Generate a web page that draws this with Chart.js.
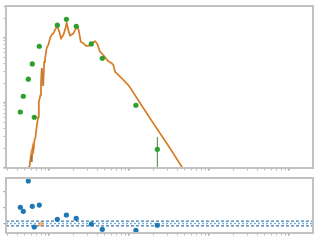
<!DOCTYPE html>
<html><head><meta charset="utf-8">
<script src="https://cdn.jsdelivr.net/npm/chart.js@4"></script>
<style>
html,body{margin:0;padding:0;background:#fff;width:320px;height:240px;overflow:hidden}
#c1{position:absolute;left:0;top:0}
#c2{position:absolute;left:0;top:174px}
</style></head><body>
<canvas id="c1" width="320" height="174"></canvas>
<canvas id="c2" width="320" height="66"></canvas>
<script>
// ---- data ----
const obsWave = [0.438,0.477,0.551,0.618,0.655,0.756,1.27,1.65,2.19,3.38,4.64,12.2,22.6];
const obsFlux = [7.27,12.7,23.2,39.8,6.03,74.5,157,194,151,80.9,48.7,9.22,1.94];
const errWave = [22.6];
const errLow  = [0.5];
const errHigh = [3.0];
const resid   = [1.03,0.77,2.69,1.09,-0.22,1.17,0.27,0.54,0.33,-0.03,-0.37,-0.43,-0.11];
const limWave = [0.794];
const limResid = [-0.03];
const modelWave = [0.551,0.571,0.584,0.596,0.608,0.625,0.640,0.659,0.678,0.698,0.722,0.735,0.746,0.767,0.783,0.794,0.811,0.830,0.846,0.871,0.891,0.936,0.980,1.029,1.081,1.132,1.189,1.270,1.345,1.413,1.509,1.585,1.664,1.743,1.830,2.013,2.175,2.258,2.371,2.490,2.684,2.901,3.098,3.419,3.758,4.016,4.340,4.772,5.508,6.081,6.366,6.683,7.345,8.485,9.795,10.81,13.72,20.14,32.55,45.6,51.6];
const modelFlux = [0.965,1.07,1.33,1.585,1.24,2.10,1.89,2.70,3.00,4.12,5.48,6.09,10.4,11.9,13.3,20.3,34.5,26.0,18.3,42.7,47.5,70.2,78.0,98.3,113,117,133,153,124,98.3,111,133,170,133,109,117,140,153,125,87.7,82.9,75.3,75.3,82.9,88.9,80.9,61.5,54.7,43.8,40.8,38.4,30.3,27.0,22.6,18.9,15.85,10.0,4.87,2.01,1.047,0.838];
const sigmaBand = 0.15;
const xMin = 0.290, xMax = 1995;
const yMin = 1, yMax = 310;
const rMin = -0.60, rMax = 2.88;
const xDecades = [0.1,1,10,100,1000];
const yDecades = [1,10,100];
const rTicks = [0,1,2];

// ---- helpers ----
function logTicks(decs, lo, hi){
  const t=[];
  decs.forEach(d=>{for(let m=1;m<10;m++){const v=m*d; if(v>=lo&&v<=hi) t.push({value:v,major:m===1});}});
  return t;
}
const pts=(xs,ys)=>xs.map((x,i)=>({x:x,y:ys[i]}));
const GRAY='#c2c2c2';
const TICK='#b8b8b8';
const frame={id:'frame',afterDraw(ch){const a=ch.chartArea,c=ch.ctx;c.save();c.strokeStyle=GRAY;c.lineWidth=2;c.strokeRect(a.left,a.top,a.right-a.left,a.bottom-a.top);c.restore();}};
function xAxis(h){
  return {type:'logarithmic',min:xMin,max:xMax,position:'bottom',
    ticks:{display:false,autoSkip:false},
    border:{display:false},
    grid:{drawOnChartArea:false,drawTicks:true,tickLength:2.5,
      color:c=>c.tick&&c.tick.major?'#a0a0a0':TICK,lineWidth:c=>c.tick&&c.tick.major?1.5:1},
    afterBuildTicks:s=>{s.ticks=logTicks(xDecades,xMin,xMax);},
    afterFit:s=>{s.height=h;}};
}

// ---- top panel ----
new Chart(document.getElementById('c1'),{
  type:'scatter',
  data:{datasets:[
    {data:pts(obsWave,obsFlux),backgroundColor:'#2ca02c',borderColor:'#2ca02c',pointRadius:2.6,pointBorderWidth:0,order:0},
    {data:[{x:errWave[0],y:errLow[0]},{x:errWave[0],y:errHigh[0]}],showLine:true,borderColor:'#3a8a3a',borderWidth:1,pointRadius:0,order:1},
    {data:pts(modelWave,modelFlux),showLine:true,borderColor:'rgba(150,110,70,0.5)',borderWidth:1,pointRadius:0,order:2},
    {data:pts(modelWave,modelFlux),showLine:true,borderColor:'#f08a2a',borderWidth:1.8,pointRadius:0,order:3}
  ]},
  options:{responsive:false,animation:false,events:[],
    layout:{padding:{top:6,right:7,left:0,bottom:0}},
    plugins:{legend:{display:false},tooltip:{enabled:false}},
    scales:{
      x:xAxis(6),
      y:{type:'logarithmic',min:yMin,max:yMax,
        ticks:{display:false,autoSkip:false},border:{display:false},
        grid:{drawOnChartArea:false,drawTicks:true,tickLength:2.5,
          color:c=>c.tick&&c.tick.major?'#a0a0a0':TICK,lineWidth:c=>c.tick&&c.tick.major?1.5:1},
        afterBuildTicks:s=>{s.ticks=logTicks(yDecades,yMin,yMax);},
        afterFit:s=>{s.width=6;}}
    }},
  plugins:[frame]
});

// ---- bottom panel ----
new Chart(document.getElementById('c2'),{
  type:'scatter',
  data:{datasets:[
    {data:pts(obsWave,resid),backgroundColor:'#1f77b4',pointRadius:2.6,pointBorderWidth:0,order:0},
    {data:pts(limWave,limResid),backgroundColor:'rgba(255,127,14,0.55)',pointRadius:2.6,pointBorderWidth:0,order:1},
    {data:[{x:xMin,y:sigmaBand},{x:xMax,y:sigmaBand}],showLine:true,borderColor:'#3a78b0',borderWidth:1.2,borderDash:[3,2],pointRadius:0,order:2},
    {data:[{x:xMin,y:-sigmaBand},{x:xMax,y:-sigmaBand}],showLine:true,borderColor:'#3a78b0',borderWidth:1.2,borderDash:[3,2],pointRadius:0,order:2},
    {data:[{x:xMin,y:0},{x:xMax,y:0}],showLine:true,borderColor:'#6fb3e6',borderWidth:1.4,borderDash:[2,2],pointRadius:0,order:3}
  ]},
  options:{responsive:false,animation:false,events:[],
    layout:{padding:{top:4,right:7,left:0,bottom:0}},
    plugins:{legend:{display:false},tooltip:{enabled:false}},
    scales:{
      x:xAxis(7),
      y:{type:'linear',min:rMin,max:rMax,
        ticks:{display:false,autoSkip:false},border:{display:false},
        grid:{drawOnChartArea:false,drawTicks:true,tickLength:2.5,color:'#a0a0a0',lineWidth:1.2},
        afterBuildTicks:s=>{s.ticks=rTicks.map(v=>({value:v}));},
        afterFit:s=>{s.width=6;}}
    }},
  plugins:[frame]
});
</script>
</body></html>
